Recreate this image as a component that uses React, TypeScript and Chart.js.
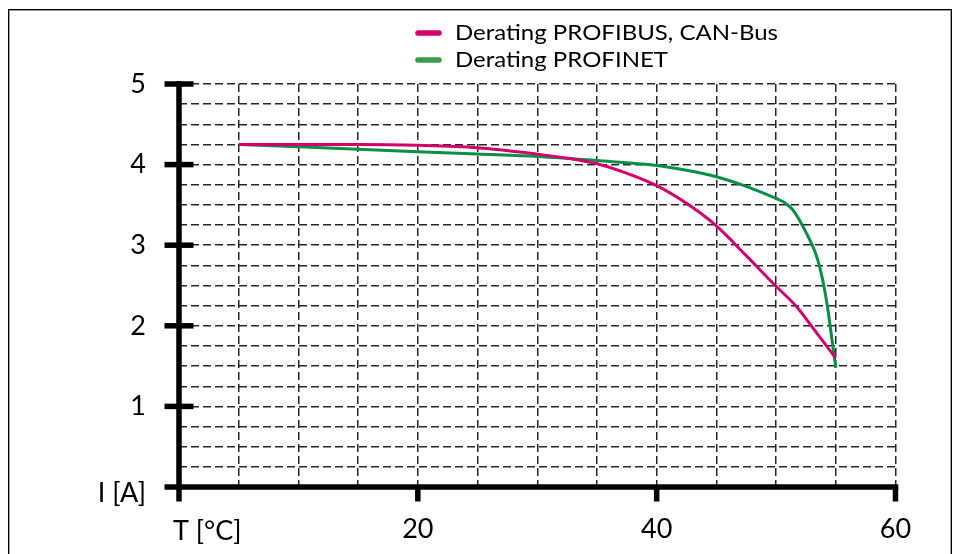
import { useEffect, useRef } from 'react';
import { Chart, registerables } from 'chart.js';

Chart.register(...registerables);

// ---- data ----
const seriesNames = ['Derating PROFIBUS, CAN-Bus', 'Derating PROFINET'];
const profibusT = [5, 10, 15, 20, 25, 30, 32.5, 35, 37, 40, 42.5, 45, 47.5, 50, 51.7, 53, 55];
const profibusI = [4.25, 4.25, 4.25, 4.24, 4.21, 4.13, 4.08, 4.01, 3.92, 3.74, 3.52, 3.24, 2.87, 2.49, 2.24, 1.99, 1.6];
const profinetT = [5, 10, 15, 20, 25, 30, 35, 40, 42.5, 45, 47.5, 50, 50.7, 51.4, 52.4, 53.4, 53.9, 54.3, 54.75, 55];
const profinetI = [4.25, 4.22, 4.19, 4.16, 4.13, 4.1, 4.05, 3.99, 3.93, 3.85, 3.73, 3.58, 3.53, 3.44, 3.19, 2.86, 2.57, 2.24, 1.75, 1.48];
const xLabeledTicks = [20, 40, 60];
const yLabeledTicks = [1, 2, 3, 4, 5];
const xTitle = 'T [°C]';
const yTitle = 'I [A]';

const lineColors = ['#d3006c', '#0a8f47'];
const legendColors = ['#d6006e', '#3c9a4b'];
const FONT = 'Lato';

const decorPlugin = {
  id: 'decor',
  afterDraw(chart: any) {
    const { ctx } = chart;
    const xs = chart.scales.x;
    const ys = chart.scales.y;
    const x0 = xs.getPixelForValue(0);
    const y0 = ys.getPixelForValue(0);
    const xEnd = xs.getPixelForValue(60);
    const yTop = ys.getPixelForValue(5);
    const w = 5.5;
    const h = w / 2;
    const tl = 14.5;
    ctx.save();
    ctx.fillStyle = '#000';
    // axes
    ctx.fillRect(x0 - h, yTop - h, w, y0 + tl - (yTop - h));
    ctx.fillRect(x0 - tl, y0 - h, xEnd + h - (x0 - tl), w);
    yLabeledTicks.forEach((v) => {
      const py = ys.getPixelForValue(v);
      ctx.fillRect(x0 - tl, py - h, tl * 2, w);
    });
    xLabeledTicks.forEach((v) => {
      const px = xs.getPixelForValue(v);
      ctx.fillRect(px - h, y0, w, tl);
    });
    // axis titles
    ctx.font = `27px ${FONT}`;
    ctx.textBaseline = 'alphabetic';
    ctx.textAlign = 'left';
    ctx.fillText(xTitle, x0 - 6, 539.5);
    ctx.textAlign = 'right';
    ctx.fillText(yTitle, x0 - 33, 502);
    // legend
    ctx.font = `21.5px ${FONT}`;
    ctx.textAlign = 'left';
    const target = 323;
    const sx = target / ctx.measureText(chart.data.datasets[0].label).width;
    chart.data.datasets.forEach((ds: any, i: number) => {
      const ly = 33 + i * 27;
      ctx.strokeStyle = legendColors[i];
      ctx.lineWidth = 5.5;
      ctx.lineCap = 'round';
      ctx.beginPath();
      ctx.moveTo(418, ly);
      ctx.lineTo(439, ly);
      ctx.stroke();
      ctx.save();
      ctx.translate(455, ly + 7);
      ctx.scale(sx, 1);
      ctx.fillStyle = '#000';
      ctx.fillText(ds.label, 0, 0);
      ctx.restore();
    });
    ctx.restore();
  },
};

export default function App() {
  const ref = useRef<HTMLCanvasElement>(null);
  useEffect(() => {
    const canvas = ref.current;
    if (!canvas) return;
    const gridColor = '#262626';
    const chart = new Chart(canvas, {
      type: 'line',
      data: {
        datasets: [
          {
            label: seriesNames[0],
            data: profibusT.map((t, i) => ({ x: t, y: profibusI[i] })),
            borderColor: lineColors[0],
            borderWidth: 3,
            pointRadius: 0,
            fill: false,
            cubicInterpolationMode: 'monotone',
          },
          {
            label: seriesNames[1],
            data: profinetT.map((t, i) => ({ x: t, y: profinetI[i] })),
            borderColor: lineColors[1],
            borderWidth: 3,
            pointRadius: 0,
            fill: false,
            cubicInterpolationMode: 'monotone',
          },
        ],
      },
      options: {
        responsive: false,
        maintainAspectRatio: false,
        animation: false,
        devicePixelRatio: 1,
        layout: { padding: { left: 0, top: 84, right: 58.5, bottom: 0 } },
        plugins: { legend: { display: false }, tooltip: { enabled: false } },
        scales: {
          x: {
            type: 'linear',
            min: 0,
            max: 60,
            afterFit: (s: any) => {
              s.height = 67;
            },
            ticks: {
              stepSize: 5,
              autoSkip: false,
              maxRotation: 0,
              padding: 26,
              color: '#000',
              font: { family: FONT, size: 27 },
              callback: (v: any) => (xLabeledTicks.includes(Number(v)) ? String(v) : ''),
            },
            grid: { color: gridColor, lineWidth: 1.5, drawTicks: false },
            border: { display: false, dash: [8, 4] },
          },
          y: {
            type: 'linear',
            min: 0,
            max: 5,
            afterFit: (s: any) => {
              s.width = 179;
            },
            ticks: {
              stepSize: 0.25,
              autoSkip: false,
              padding: 33,
              color: '#000',
              font: { family: FONT, size: 27 },
              callback: (v: any) => (yLabeledTicks.includes(Number(v)) ? String(v) : ''),
            },
            grid: { color: gridColor, lineWidth: 1.5, drawTicks: false },
            border: { display: false, dash: [8, 4] },
          },
        },
      },
      plugins: [decorPlugin],
    });
    return () => chart.destroy();
  }, []);

  return (
    <div
      style={{
        position: 'fixed',
        left: 0,
        top: 0,
        width: 954,
        height: 554,
        overflow: 'hidden',
        background: '#fff',
      }}
    >
      <div
        style={{
          position: 'absolute',
          left: 8,
          top: 9,
          width: 942,
          height: 600,
          border: '1px solid #000',
          boxShadow: 'inset 0 0 0 1px #a0a0a0',
        }}
      />
      <canvas
        ref={ref}
        width={954}
        height={554}
        style={{ position: 'absolute', left: 0, top: 0, display: 'block' }}
      />
    </div>
  );
}
